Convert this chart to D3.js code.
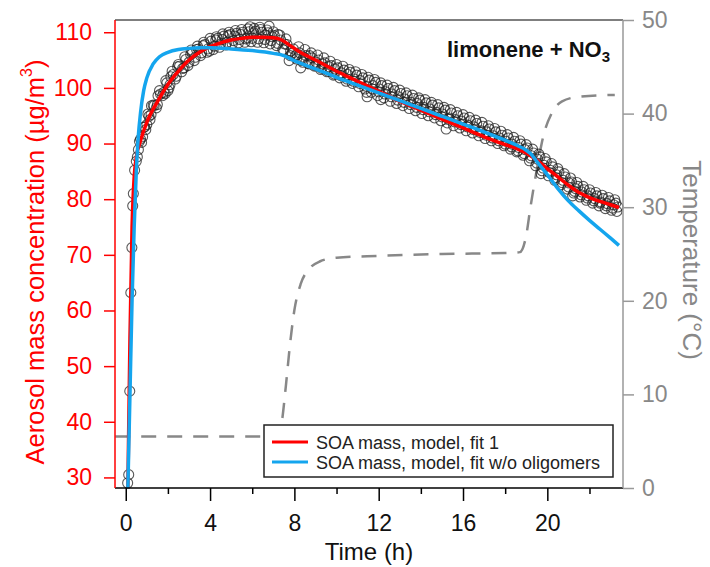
<!DOCTYPE html>
<html><head><meta charset="utf-8">
<script src="https://cdn.jsdelivr.net/npm/d3@7"></script>
<style>
body{margin:0;background:#fff;}
text{font-family:"Liberation Sans",Arial,sans-serif;}
</style></head>
<body><svg id="chart" width="710" height="567"></svg>
<script>
// ---- data ----
const xTicks = [0,2,4,6,8,10,12,14,16,18,20,22];
const xLabels = [0,4,8,12,16,20];
const yLeftTicks = [30,40,50,60,70,80,90,100,110];
const yRightTicks = [0,10,20,30,40,50];

// observed SOA mass: [time h, µg/m3]
const observed = [
[0.09,29.0],[0.14,30.5],[0.19,45.5],[0.24,63.2],[0.29,71.3],[0.33,78.8],[0.36,81.0],[0.42,85.2],
[0.5,86.8],[0.6,88.9],[0.7,90.8],[0.8,91.2],[0.9,93.0],[1.0,93.4],[1.1,94.9],[1.2,95.2],[1.35,96.8],
[1.5,97.0],[1.65,98.9],[1.8,99.2],[1.95,100.9],[2.1,100.6],[2.25,102.4],[2.4,102.1],[2.55,103.9],
[2.7,103.5],[2.85,105.1],[3.0,104.6],[3.15,106.2],[3.3,105.5],[3.45,107.0],[3.6,106.3],[3.75,107.8],
[3.9,107.0],[4.05,108.4],[4.2,107.5],[4.35,108.9],[4.5,107.9],[4.65,109.3],[4.8,108.2],[4.95,109.6],
[5.1,108.5],[5.25,109.8],[5.4,108.7],[5.55,110.0],[5.7,108.8],[5.85,110.1],[6.0,108.9],[6.15,110.2],
[6.3,108.8],[6.45,110.0],[6.6,108.7],[6.75,109.9],[6.9,108.5],[7.05,109.4],[7.2,108.0],[7.35,108.6],
[7.5,106.8],[7.65,107.8],[7.8,105.8],[7.95,107.0],[8.1,105.2],[8.25,106.3],[8.4,104.6],[8.55,105.8],
[8.7,104.3],[8.85,105.4],[9.0,104.0],[9.15,105.0],[9.3,103.5],[9.45,104.5],[9.6,103.0],[9.75,104.0],
[9.9,102.5],[10.05,103.6],[10.2,102.2],[10.35,103.2],[10.5,101.6],[10.65,102.8],[10.8,101.2],[10.95,102.3],
[11.1,100.8],[11.25,101.8],[11.4,100.3],[11.55,101.4],[11.7,99.8],[11.85,101.0],[12.0,99.3],[12.15,100.4],
[12.3,98.9],[12.45,99.9],[12.6,98.4],[12.75,99.5],[12.9,97.8],[13.05,99.0],[13.2,97.4],[13.35,98.6],
[13.5,97.0],[13.65,98.1],[13.8,96.5],[13.95,97.8],[14.1,96.1],[14.25,97.3],[14.4,95.7],[14.55,96.9],
[14.7,95.2],[14.85,96.4],[15.0,94.8],[15.15,96.0],[15.3,94.4],[15.45,95.5],[15.6,93.9],[15.75,95.0],
[15.9,93.4],[16.05,94.6],[16.2,93.0],[16.35,94.1],[16.5,92.5],[16.65,93.6],[16.8,92.0],[16.95,93.1],
[17.1,91.5],[17.25,92.6],[17.4,91.0],[17.55,92.1],[17.7,90.5],[17.85,91.5],[18.0,89.9],[18.15,91.0],
[18.3,89.4],[18.45,90.4],[18.6,88.7],[18.75,89.9],[18.9,88.2],[19.05,89.2],[19.2,87.4],[19.35,88.3],
[19.5,86.5],[19.65,87.6],[19.8,85.6],[19.95,86.7],[20.1,84.8],[20.25,85.8],[20.4,83.9],[20.55,84.9],
[20.7,83.0],[20.85,84.0],[21.0,82.2],[21.15,83.1],[21.3,81.4],[21.45,82.3],[21.6,80.8],[21.75,81.7],
[21.9,80.2],[22.05,81.1],[22.2,79.7],[22.35,80.6],[22.5,79.3],[22.65,80.1],[22.8,78.8],[22.95,79.7],
[23.1,78.4],[23.25,79.3],[23.35,78.6],
[0.55,87.6],[0.65,90.4],[0.75,90.2],[0.85,92.9],[0.95,92.5],[1.05,95.3],[1.15,94.3],[1.3,96.9],
[1.45,96.4],[1.6,99.5],[1.75,98.6],[1.9,101.3],[2.05,100.0],[2.2,103.0],[2.35,101.6],[2.5,104.2],
[2.65,102.9],[2.8,105.6],[2.95,104.0],[3.1,106.8],[3.25,104.9],[3.4,107.5],[3.55,105.8],[3.7,108.2],
[3.85,106.4],[4.0,108.9],[4.15,106.9],[4.3,109.2],[4.45,107.3],[4.6,109.7],[4.75,107.7],[4.9,110.0],
[5.05,107.9],[5.2,110.3],[5.35,108.1],[5.5,110.5],[5.65,108.2],[5.8,110.6],[5.95,108.3],[6.1,110.7],
[6.25,108.2],[6.4,110.5],[6.55,108.1],[6.7,110.4],[6.85,107.9],[7.0,110.1],[7.15,107.6],[7.3,109.5],
[7.45,106.9],[7.6,108.8],[7.75,104.9],[7.9,106.2],[8.05,105.8],[8.2,107.4],[8.35,104.9],[8.5,106.9],
[8.65,104.4],[8.8,106.3],[8.95,103.9],[9.1,105.9],[9.25,103.3],[9.4,105.4],[9.55,102.9],[9.7,104.8],
[9.85,102.3],[10.0,104.2],[10.15,101.8],[10.3,103.9],[10.45,101.2],[10.6,103.3],[10.75,100.8],[10.9,102.9],
[11.05,100.2],[11.2,102.4],[11.35,99.8],[11.5,101.9],[11.65,99.2],[11.8,101.5],[11.95,98.6],[12.1,100.9],
[12.25,98.2],[12.4,100.5],[12.55,97.6],[12.7,100.1],[12.85,97.2],[13.0,99.6],[13.15,96.8],[13.3,99.1],
[13.45,96.3],[13.6,98.7],[13.75,95.9],[13.9,98.2],[14.05,95.4],[14.2,97.9],[14.35,95.0],[14.5,97.4],
[14.65,94.6],[14.8,97.0],[14.95,94.1],[15.1,96.5],[15.25,93.7],[15.4,96.1],[15.55,93.2],[15.7,95.6],
[15.85,92.8],[16.0,95.2],[16.15,92.3],[16.3,94.7],[16.45,91.9],[16.6,94.2],[16.75,91.4],[16.9,93.8],
[17.05,90.9],[17.2,93.2],[17.35,90.5],[17.5,92.7],[17.65,90.0],[17.8,92.2],[17.95,89.6],[18.1,91.6],
[18.25,89.0],[18.4,91.1],[18.55,88.5],[18.7,90.5],[18.85,87.9],[19.0,89.8],[19.15,86.9],[19.3,89.0],
[19.45,86.0],[19.6,88.1],[19.75,85.1],[19.9,87.3],[20.05,84.2],[20.2,86.4],[20.35,83.4],[20.5,85.5],
[20.65,82.6],[20.8,84.6],[20.95,81.8],[21.1,83.8],[21.25,81.1],[21.4,83.0],[21.55,80.4],[21.7,82.3],
[21.85,79.8],[22.0,81.7],[22.15,79.3],[22.3,81.2],[22.45,78.8],[22.6,80.7],[22.75,78.3],[22.9,80.3],
[23.05,78.0],[23.2,79.9],[23.3,77.8],
[1.22,96.8],[1.53,98.6],[1.87,99.0],[2.14,102.0],[2.46,103.8],[2.77,103.6],[3.08,106.0],[3.36,106.9],
[3.68,107.6],[3.97,106.6],[4.27,108.6],[4.58,108.7],[4.86,109.4],[5.17,109.3],[5.46,109.6],[5.78,109.0],
[6.07,109.9],[6.36,110.9],[6.63,109.5],[6.94,109.2],[7.22,109.6],[7.53,107.9],[7.82,106.6],[8.13,106.0],
[8.44,105.5],[8.72,105.8],[9.03,104.6],[9.33,104.3],[9.64,103.8],[9.92,103.4],[10.23,102.7],[10.53,102.4],
[10.84,101.6],[11.13,101.3],[11.43,99.2],[11.73,100.4],[12.04,99.8],[12.33,99.3],[12.63,98.9],[12.94,98.4],
[13.24,98.0],[13.53,97.4],[13.84,97.2],[14.13,96.5],[14.43,96.2],[14.74,95.6],[15.03,95.3],[15.34,94.6],
[15.63,94.3],[15.94,94.0],[16.23,93.3],[16.53,93.0],[16.84,92.3],[17.13,92.1],[17.44,91.4],[17.73,91.0],
[18.04,90.4],[18.33,89.9],[18.63,89.3],[18.94,88.9],[19.24,87.8],[19.53,87.2],[19.84,86.1],[20.14,85.2],
[20.43,84.4],[20.74,83.4],[21.04,82.9],[21.34,81.9],[21.63,81.3],[21.94,80.6],[22.24,80.1],[22.53,79.5],
[22.84,79.2],[23.14,79.0],
[8.3,103.6],[11.45,98.4],[12.1,97.9],[15.2,92.6],[5.9,111.0],[6.8,111.1],[2.0,99.5],[19.7,84.6],[21.2,80.6]
];

// model fit 1 (red)
const fit1 = [
[0.1,28],[0.2,55],[0.3,75],[0.4,84],[0.5,87.5],[0.7,90.5],[1.0,93.8],[1.5,97.5],[2.0,100.6],[2.5,103],
[3.0,105],[3.5,106.4],[4.0,107.4],[4.5,108.1],[5.0,108.6],[5.5,108.9],[6.0,109.1],[6.5,109.1],[7.0,109.0],
[7.4,108.6],[7.8,107.6],[8.2,106.6],[9,105],[10,103],[11,101.2],[12,99.4],[13,97.6],[14,96.0],[15,94.4],
[16,92.8],[17,91.2],[18,89.8],[18.6,89.0],[19,88.3],[19.5,87.0],[20,85.5],[20.5,84.0],[21,82.5],
[21.5,81.2],[22,80.3],[22.5,79.6],[23,79.0],[23.4,78.5]
];

// model fit without oligomers (blue)
const fitNoOlig = [
[0.1,28],[0.2,45],[0.3,62],[0.4,75],[0.5,85],[0.6,91.5],[0.7,95.5],[0.85,99.5],[1.0,101.8],[1.3,104.3],
[1.6,105.6],[2.0,106.4],[2.5,106.9],[3.0,107.1],[3.5,107.2],[4.0,107.2],[5.0,107.0],[6.0,106.7],
[7.0,106.2],[7.5,105.8],[8.0,104.9],[9.0,103.4],[10,101.9],[11,100.5],[12,99.1],[13,97.7],[14,96.3],
[15,94.9],[16,93.5],[17,92.1],[18,90.6],[18.6,89.6],[19,88.8],[19.2,88.2],[19.5,86.8],[20,84.4],
[20.5,81.9],[21,79.7],[21.5,77.9],[22,76.2],[22.5,74.6],[23,73.0],[23.4,71.7]
];

// temperature (°C), right axis
const temperature = [
[-0.5,5.5],[7.2,5.5],[7.4,7],[7.6,11],[7.8,15.5],[8.0,19],[8.3,21.8],[8.7,23.4],[9.2,24.2],[10,24.6],
[12,24.8],[15,25.0],[18,25.1],[18.7,25.2],[19.0,27],[19.2,30],[19.5,34],[19.8,37.5],[20.2,40],
[20.7,41.3],[21.5,41.8],[23.2,42]
];

const legendItems = [
 {label:"SOA mass, model, fit 1", color:"#ff0000"},
 {label:"SOA mass, model, fit w/o oligomers", color:"#14a5ee"}
];

// ---- layout ----
const L=115, R=623, T=20, B=488;
const svg = d3.select("#chart");
const x = d3.scaleLinear().domain([-0.51,23.59]).range([L,R]);
const yL = d3.scaleLinear().domain([28.1,112.2]).range([B,T]);
const yR = d3.scaleLinear().domain([0,50]).range([B,T]);

// temperature dashed
svg.append("path").datum(temperature)
 .attr("d", d3.line().x(d=>x(d[0])).y(d=>yR(d[1])).curve(d3.curveMonotoneX))
 .attr("fill","none").attr("stroke","#888").attr("stroke-width",2.5)
 .attr("stroke-dasharray","15,11");

// observed circles
svg.append("g").selectAll("circle").data(observed).join("circle")
 .attr("cx",d=>x(d[0])).attr("cy",d=>yL(d[1])).attr("r",5)
 .attr("fill","none").attr("stroke","#222").attr("stroke-width",1.1).attr("stroke-opacity",0.75);

const lineL = d3.line().x(d=>x(d[0])).y(d=>yL(d[1])).curve(d3.curveMonotoneX);
svg.append("path").datum(fit1).attr("d",lineL)
 .attr("fill","none").attr("stroke","#ff0000").attr("stroke-width",3.5);
svg.append("path").datum(fitNoOlig).attr("d",lineL)
 .attr("fill","none").attr("stroke","#14a5ee").attr("stroke-width",3.5);

// frame top
svg.append("line").attr("x1",L).attr("x2",R).attr("y1",T).attr("y2",T)
 .attr("stroke","#555").attr("stroke-width",1.5);

// bottom axis
const gx = svg.append("g").attr("transform",`translate(0,${B})`)
 .call(d3.axisBottom(x).tickValues(xTicks).tickSize(13)
   .tickFormat(d=> xLabels.includes(d)? d : ""));
gx.select(".domain").attr("d",`M${L},0H${R}`).attr("stroke","#000").attr("stroke-width",1.5);
gx.selectAll(".tick line").attr("stroke","#000").attr("stroke-width",1.5)
  .attr("y2",d=> xLabels.includes(d)?13:6);
gx.selectAll(".tick text").attr("font-size",23).attr("fill","#111").attr("dy","0.71em").attr("y",27);

// left axis
const gl = svg.append("g").attr("transform",`translate(${L},0)`)
 .call(d3.axisLeft(yL).tickValues(yLeftTicks).tickSize(11).tickPadding(12));
gl.select(".domain").attr("d",`M0,${T}V${B}`).attr("stroke","#ff0000").attr("stroke-width",1.5);
gl.selectAll(".tick line").attr("stroke","#ff0000").attr("stroke-width",1.5);
gl.selectAll(".tick text").attr("font-size",23).attr("fill","#ff0000");

// right axis
const gr = svg.append("g").attr("transform",`translate(${R},0)`)
 .call(d3.axisRight(yR).tickValues(yRightTicks).tickSize(11).tickPadding(8));
gr.select(".domain").attr("d",`M0,${T}V${B}`).attr("stroke","#999").attr("stroke-width",1.5);
gr.selectAll(".tick line").attr("stroke","#999").attr("stroke-width",1.5);
gr.selectAll(".tick text").attr("font-size",23).attr("fill","#888");

// axis titles
svg.append("text").attr("x",(L+R)/2).attr("y",560).attr("text-anchor","middle")
 .attr("font-size",24).attr("fill","#111").text("Time (h)");

const lt = svg.append("text").attr("transform","translate(44,262) rotate(-90)")
 .attr("text-anchor","middle").attr("font-size",25.5).attr("fill","#ff0000");
lt.append("tspan").text("Aerosol mass concentration (µg/m");
lt.append("tspan").attr("font-size",16).attr("dy",-12).text("3");
lt.append("tspan").attr("dy",12).text(")");

svg.append("text").attr("transform","translate(683,260) rotate(90)")
 .attr("text-anchor","middle").attr("font-size",26).attr("fill","#888").text("Temperature (°C)");

// title
const tt = svg.append("text").attr("x",610).attr("y",57).attr("text-anchor","end")
 .attr("font-size",22).attr("font-weight","bold").attr("fill","#111");
tt.append("tspan").text("limonene + NO");
tt.append("tspan").attr("font-size",15).attr("dy",5).text("3");

// legend
const lg = svg.append("g");
lg.append("rect").attr("x",264).attr("y",425).attr("width",349).attr("height",52)
 .attr("fill","#fff").attr("stroke","#222").attr("stroke-width",1.5);
legendItems.forEach((it,i)=>{
  const yy = 442 + i*20;
  lg.append("line").attr("x1",272).attr("x2",308).attr("y1",yy).attr("y2",yy)
   .attr("stroke",it.color).attr("stroke-width",3.2);
  lg.append("text").attr("x",316).attr("y",yy+6.5).attr("font-size",18).attr("fill","#222").text(it.label);
});
</script></body></html>
